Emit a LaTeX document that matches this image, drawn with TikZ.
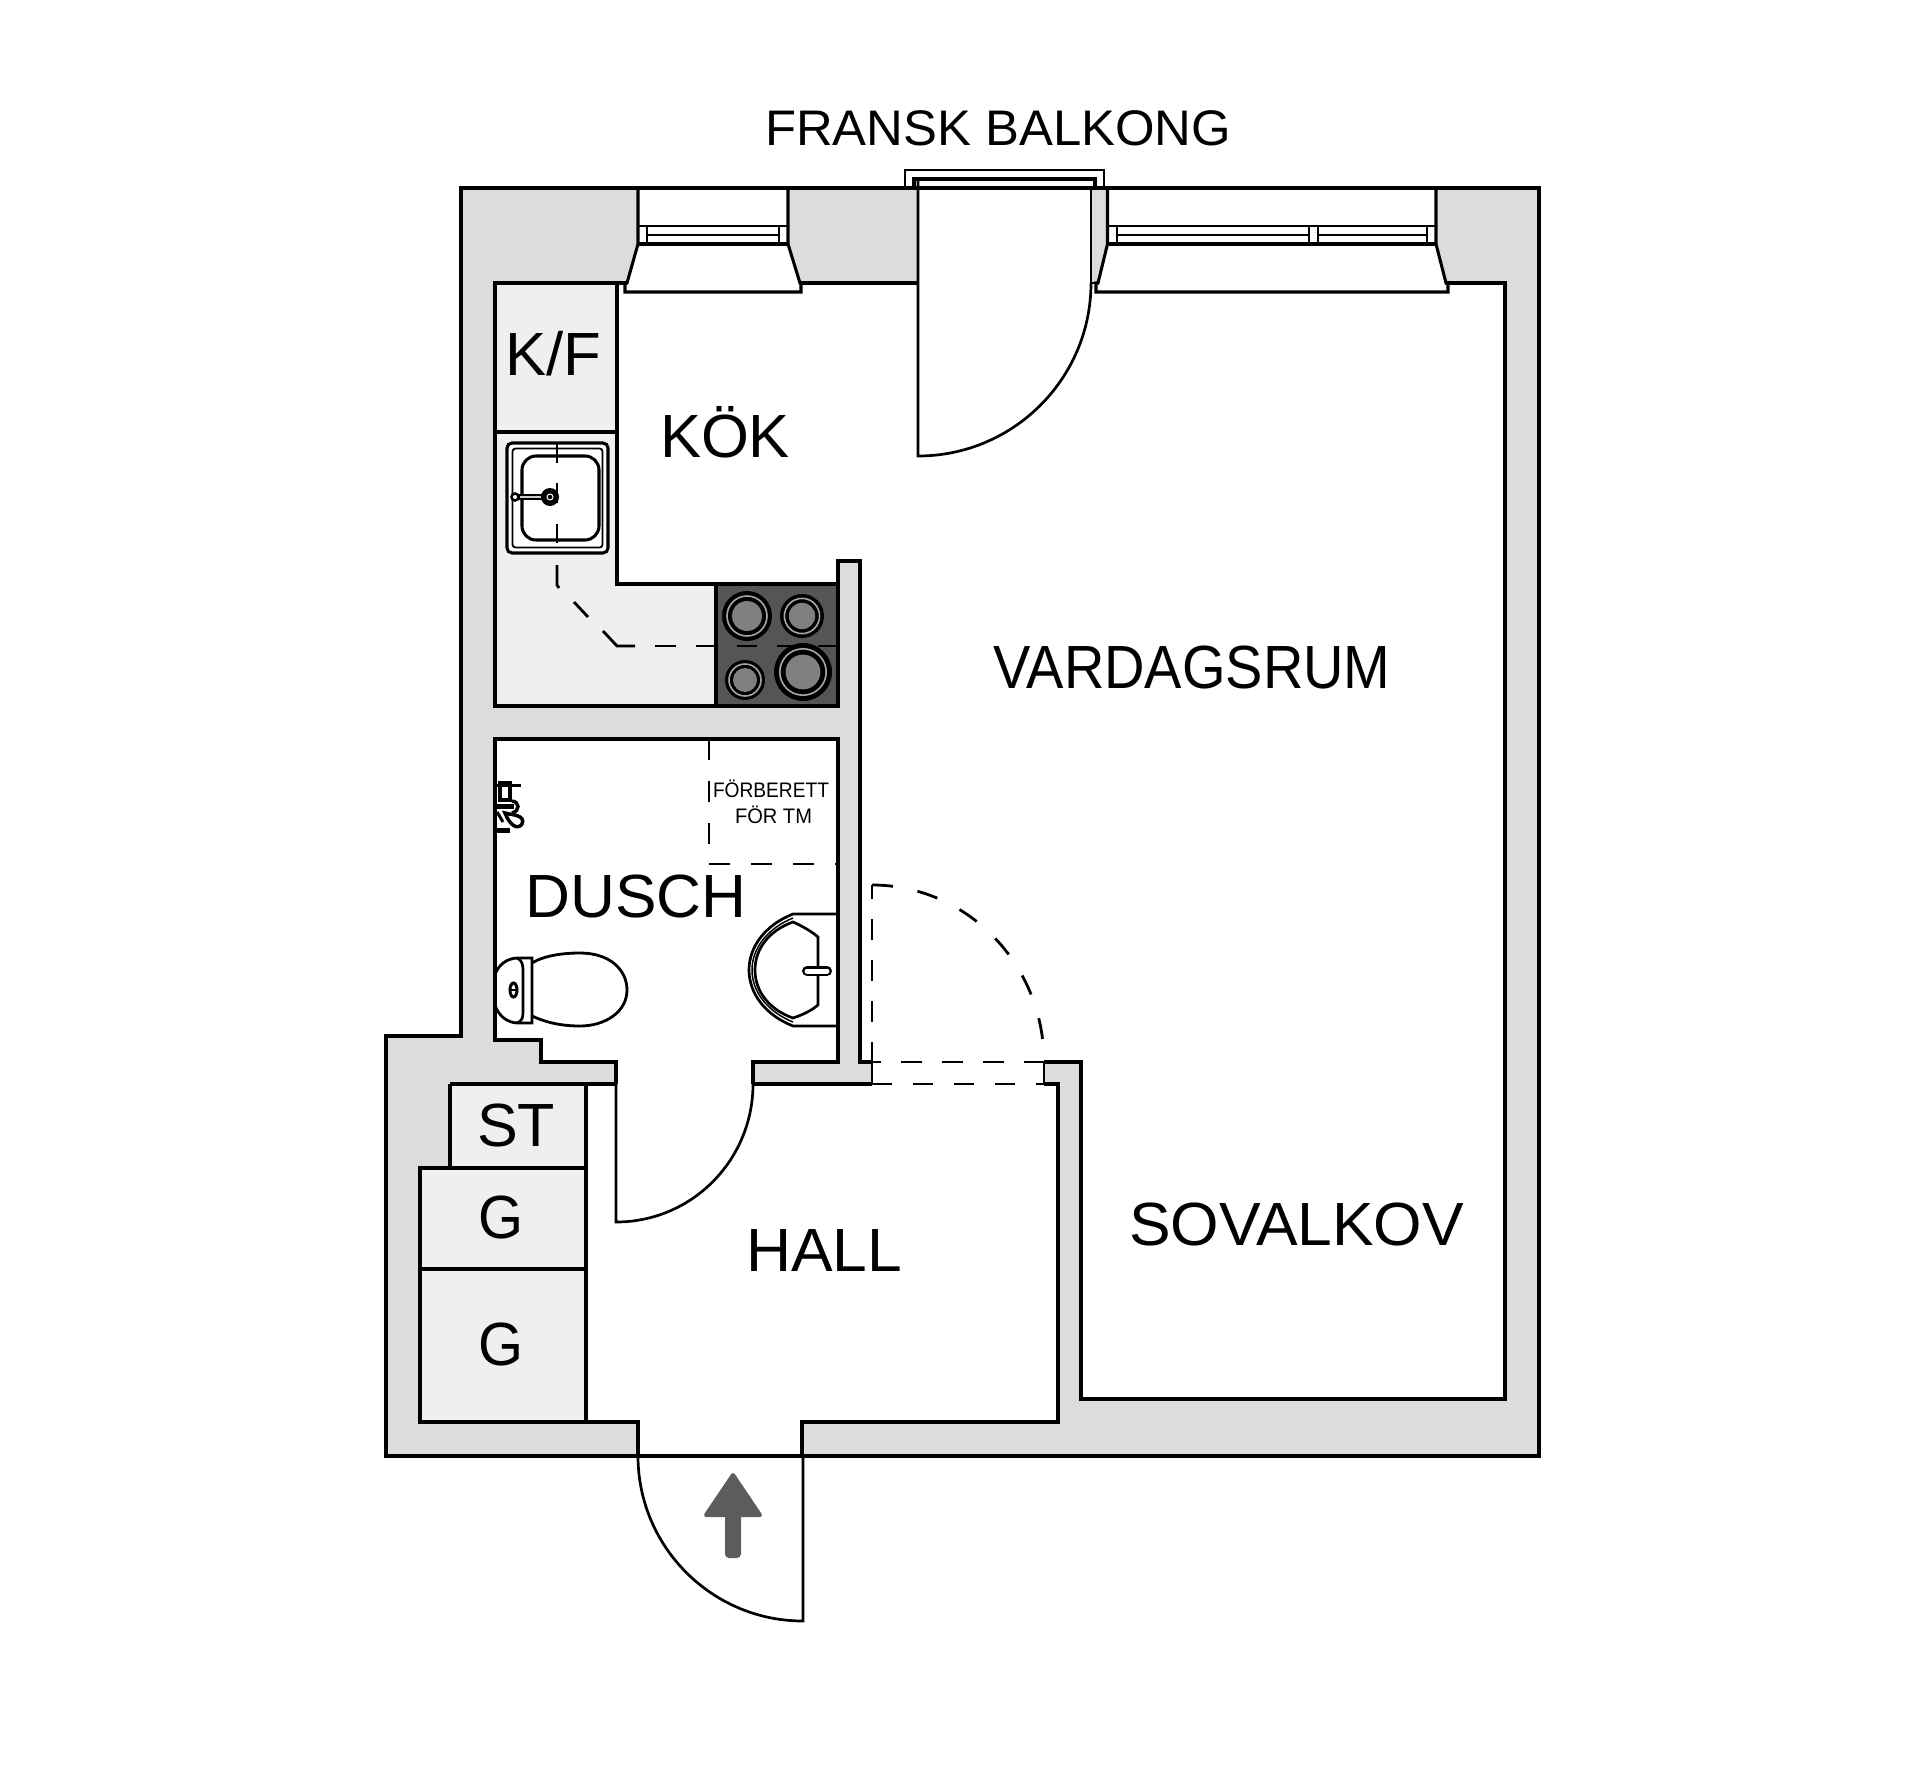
\documentclass[tikz,border=0pt]{standalone}
\usepackage{fontspec}
\usepackage{graphicx}
\setmainfont{Liberation Sans}
\definecolor{wallc}{HTML}{DCDCDC}
\definecolor{storec}{HTML}{EFEFEF}
\definecolor{stovec}{HTML}{555555}
\definecolor{burnc}{HTML}{808080}
\definecolor{arrc}{HTML}{5C5C5C}
\newcommand{\lbl}[3]{\fontsize{#1}{#1}\selectfont\resizebox{#2pt}{\height}{#3}}
\tikzset{
  wl/.style={draw=black,line width=3.05pt,line join=miter},
  tl/.style={draw=black,line width=2.7pt,line join=miter},
  dl/.style={draw=black,line width=2.8pt,dash pattern=on 21pt off 20pt},
  sl/.style={draw=black,line width=2.8pt},
  txt/.style={inner sep=0pt,outer sep=0pt,anchor=base,text=black},
}
\newcommand{\burner}[3]{%
  \fill[black] (#1,#2) circle[radius=#3pt];
  \draw[black!35,line width=1.6pt] (#1,#2) circle[radius=0.8*#3pt];
  \fill[burnc] (#1,#2) circle[radius=0.6*#3pt];
}
\begin{document}
\begin{tikzpicture}[x=1pt,y=-1pt]
\useasboundingbox (0,0) rectangle (1920,1787);
\fill[white] (0,0) rectangle (1920,1787);
% walls
\fill[wallc] (461,188)--(1539,188)--(1539,1456)--(386,1456)--(386,1036)--(461,1036)--cycle;
% white rooms
\fill[white] (495,283)--(1505,283)--(1505,1399)--(1081,1399)--(1081,1062)--(1044,1062)--(1044,1084)--(872,1084)--(872,1062)--(860,1062)--(860,561)--(838,561)--(838,706)--(495,706)--cycle;
\fill[white] (495,739)--(838,739)--(838,1062)--(753,1062)--(753,1084)--(616,1084)--(616,1062)--(541,1062)--(541,1040)--(495,1040)--cycle;
\fill[white] (450,1084)--(1058,1084)--(1058,1422)--(802,1422)--(802,1456)--(638,1456)--(638,1422)--(420,1422)--(420,1168)--(450,1168)--cycle;
\fill[white] (616,1062) rectangle (753,1090);
% storage fills
\fill[storec] (495,283) rectangle (617,432);
\fill[storec] (495,432)--(617,432)--(617,584)--(716,584)--(716,706)--(495,706)--cycle;
\fill[stovec] (716,584) rectangle (838,706);
\fill[storec] (450,1084) rectangle (586,1168);
\fill[storec] (420,1168) rectangle (586,1422);
% window 1
\fill[white] (638,188)--(788,188)--(788,244)--(800,283)--(801,292)--(625,292)--(627,283)--(638,244)--cycle;
\draw[wl] (638,188)--(638,244)--(627,283)--(625,283)--(625,292)--(801,292)--(801,283)--(800,283)--(788,244)--(788,188);
\draw[wl] (638,244)--(788,244);
\draw[tl] (638,226)--(788,226);
\draw[tl] (647,226)--(647,244) (779,226)--(779,244) (647,235)--(779,235);
% balcony door opening and window 2
\fill[white] (918,188) rectangle (1091,283);
\fill[white] (1107.5,188)--(1436,188)--(1436,244)--(1446,283)--(1448,292)--(1096,292)--(1098,283)--(1107.5,244)--cycle;
\draw[wl] (1107.5,188)--(1107.5,244)--(1098,283)--(1096,283)--(1096,292)--(1448,292)--(1448,283)--(1446,283)--(1436,244)--(1436,188);
\draw[wl] (1107.5,244)--(1436,244);
\draw[tl] (1107.5,226)--(1436,226);
\draw[tl] (1117,226)--(1117,244) (1427,226)--(1427,244) (1309,226)--(1309,244) (1318,226)--(1318,244);
\draw[tl] (1117,235)--(1309,235) (1318,235)--(1427,235);
% balcony frames
\draw[tl] (905,188)--(905,170)--(1104,170)--(1104,188);
\draw[wl] (914,188)--(914,179)--(1095,179)--(1095,188);
\draw[tl] (1091,188)--(1091,283)--(1098,283);
\draw[tl] (918,179)--(918,456) .. controls (1013.5,456) and (1091,378.5) .. (1091,283);
% outer wall
\draw[wl] (461,188)--(1539,188)--(1539,1456)--(386,1456)--(386,1036)--(461,1036)--cycle;
% inner wall lines
\draw[wl] (627,283)--(495,283)--(495,706)--(838,706)--(838,561)--(860,561)--(860,1062)--(872,1062);
\draw[wl] (801,283)--(918,283);
\draw[wl] (1446,283)--(1505,283)--(1505,1399)--(1081,1399)--(1081,1062)--(1044,1062);
\draw[wl] (617,283)--(617,584)--(838,584);
\draw[wl] (495,432)--(618,432);
\draw[wl] (716,584)--(716,706);
% bath
\draw[wl] (616,1084)--(616,1062)--(541,1062)--(541,1040)--(495,1040)--(495,739)--(838,739)--(838,1062)--(753,1062)--(753,1084);
% hall
\draw[wl] (450,1084)--(616,1084) (753,1084)--(872,1084);
\draw[wl] (450,1084)--(450,1168)--(420,1168)--(420,1422)--(638,1422)--(638,1456);
\draw[wl] (802,1456)--(802,1422)--(1058,1422)--(1058,1084)--(1044,1084);
\draw[wl] (586,1084)--(586,1422);
\draw[wl] (420,1168)--(586,1168);
\draw[wl] (420,1269)--(586,1269);
% hall door
\draw[tl] (616,1084)--(616,1222) .. controls (692,1222) and (753,1160) .. (753,1084);
% entry door
\draw[tl] (638,1456) .. controls (638,1547) and (712,1621) .. (803,1621)--(803,1456);
% arrow
\fill[arrc,draw=arrc,line width=4pt,line join=round] (733,1475)--(706,1515)--(760,1515)--cycle;
\fill[arrc,rounded corners=4pt] (725,1512) rectangle (741,1558);
% dashed door to sovalkov
\draw[tl] (872,1084)--(872,1063);
\draw[dl] (872,1063)--(872,885);
\draw[dl,dash pattern=on 21pt off 25pt] (872,885) .. controls (967,885) and (1044,964) .. (1044,1062);
\draw[tl] (1044,1062)--(1044,1084);
\draw[dl,dash pattern=on 21pt off 20pt] (860,1062)--(1044,1062);
\draw[dl,dash pattern=on 20pt off 21pt] (872,1084)--(1044,1084);
% sink
\draw[wl,fill=white,rounded corners=5pt] (507,443) rectangle (608,553);
\draw[line width=1.8pt,rounded corners=3pt] (512.5,448.5) rectangle (602.5,547.5);
\draw[wl,rounded corners=14pt] (522,456) rectangle (599,540);
\draw[sl] (557,443)--(557,463) (557,483)--(557,503) (557,524)--(557,543);
\draw[black,line width=6pt] (515,497)--(548,497);
\draw[burnc!40,line width=1.6pt] (520,497)--(545,497);
\fill[black] (550,497) circle[radius=9pt];
\draw[white,line width=1pt] (550,497) circle[radius=3pt];
\draw[black,line width=2.5pt,fill=white] (515,497) circle[radius=3.5pt];
% burners
\burner{747}{616}{25}
\burner{802}{616}{22}
\burner{745}{680}{20}
\burner{803}{672}{29}
% kitchen dashed
\draw[sl] (557,565)--(557,585)--(559,588);
\draw[sl] (574,602)--(588,617);
\draw[sl] (603,631)--(617,646)--(635,646);
\draw[sl] (655,646)--(676,646) (696,646)--(716,646) (737,646)--(757,646) (777,646)--(797,646) (818,646)--(838,646);
% bath dashed
\draw[dl,dash pattern=on 21pt off 21pt] (709,739)--(709,864);
\draw[dl,dash pattern=on 21pt off 21pt] (709,864)--(838,864);
% shower fixture
\draw[black,line width=3.5pt] (500,783) rectangle (510,800);
\draw[black,line width=3pt] (497,785)--(521,785);
\draw[black,line width=5pt] (497,806)--(514,806);
\draw[black,line width=3.5pt] (512,801) .. controls (520,802) and (520,811) .. (512,813);
\draw[black,line width=3.5pt,fill=white] (505,813) .. controls (512,815) and (526,815) .. (522,824) .. controls (518,830) and (510,826) .. cycle;
\draw[black,line width=3pt] (497,812)--(503,822);
\draw[black,line width=5pt] (497,830)--(510,830);
% toilet
\draw[wl,line width=2.8pt] (532,963) .. controls (545,955) and (565,953) .. (580,953) .. controls (610,953) and (627,970) .. (627,990) .. controls (627,1012) and (605,1026) .. (580,1026) .. controls (560,1026) and (545,1022) .. (532,1016);
\draw[wl,line width=2.8pt] (495,975) .. controls (498,965) and (507,958) .. (518,958)--(532,958)--(532,1023)--(518,1023) .. controls (507,1023) and (498,1015) .. (495,1005);
\draw[tl] (517,958) .. controls (522,960) and (523,965) .. (523,970)--(523,1012) .. controls (523,1018) and (522,1021) .. (517,1023);
\draw[tl,line width=3pt] (513.5,990) ellipse[x radius=3.5pt,y radius=7pt];
\draw[black,line width=1.6pt] (510,990)--(517,990);
% basin
\draw[tl] (838,914)--(793,914) .. controls (765,925) and (749,947) .. (749,970) .. controls (749,993) and (765,1015) .. (793,1026)--(838,1026);
\draw[black,line width=1.5pt] (793,918) .. controls (768,928) and (752,948) .. (752,970) .. controls (752,992) and (768,1012) .. (793,1022);
\draw[tl] (793,922) .. controls (770,930) and (755,948) .. (755,970) .. controls (755,992) and (770,1010) .. (793,1018) .. controls (802,1015) and (811,1011) .. (818,1005)--(818,937) .. controls (811,931) and (802,926) .. cycle;
\draw[black,line width=10pt,line cap=round] (807,971)--(827,971);
\draw[white,line width=5pt,line cap=round] (807,971)--(827,971);
% labels
\node[txt] (balkong) at (998,146) {\lbl{50}{466}{FRANSK BALKONG}};
\node[txt] (kf) at (553,376) {\lbl{61}{96}{K/F}};
\node[txt] (kok) at (725,457) {\lbl{61}{130}{KÖK}};
\node[txt] (vardag) at (1192,688) {\lbl{61}{397}{VARDAGSRUM}};
\node[txt] (sov) at (1296.5,1245) {\lbl{61}{335}{SOVALKOV}};
\node[txt] (dusch) at (636,917) {\lbl{61}{221}{DUSCH}};
\node[txt] (hall) at (824,1271) {\lbl{61}{156}{HALL}};
\node[txt] (st) at (516,1146) {\lbl{61}{78}{ST}};
\node[txt] (g1) at (501,1238) {\lbl{61}{45}{G}};
\node[txt] (g2) at (501,1365) {\lbl{61}{45}{G}};
\node[txt] (tm1) at (771,797) {\lbl{21}{116}{FÖRBERETT}};
\node[txt] (tm2) at (773.5,823) {\lbl{21}{77}{FÖR TM}};
\end{tikzpicture}
\end{document}
